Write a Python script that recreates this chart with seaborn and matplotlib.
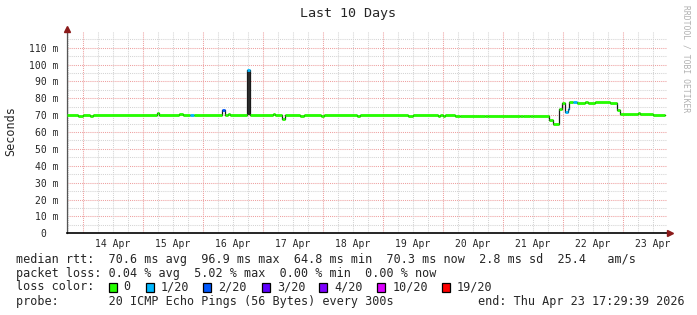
import matplotlib
matplotlib.use("Agg")
import matplotlib.pyplot as plt
import matplotlib.dates as mdates
from matplotlib.patches import Rectangle
import pandas as pd
import seaborn as sns

# ---------------- data ----------------
title = "Last 10 Days"
y_label = "Seconds"
start_time = "2026-04-13 17:29:39"
end_time = "2026-04-23 17:29:39"
line_end = "2026-04-23 17:00"

seg_start = [
    "2026-04-13 17:30", "2026-04-13 22:05", "2026-04-14 00:05", "2026-04-14 02:55",
    "2026-04-14 04:05", "2026-04-15 05:45", "2026-04-15 06:30", "2026-04-15 14:30",
    "2026-04-15 16:05", "2026-04-15 18:55", "2026-04-15 20:15", "2026-04-16 07:45",
    "2026-04-16 08:50", "2026-04-16 10:05", "2026-04-16 10:55", "2026-04-16 17:50",
    "2026-04-16 18:55", "2026-04-17 04:00", "2026-04-17 04:50", "2026-04-17 07:50",
    "2026-04-17 08:55", "2026-04-17 14:55", "2026-04-17 16:15", "2026-04-17 23:20",
    "2026-04-18 00:15", "2026-04-18 13:35", "2026-04-18 14:40", "2026-04-19 10:00",
    "2026-04-19 12:15", "2026-04-19 22:00", "2026-04-19 22:55", "2026-04-20 00:00",
    "2026-04-20 01:00", "2026-04-20 04:55", "2026-04-20 06:40", "2026-04-20 16:55",
    "2026-04-20 18:15", "2026-04-21 06:55", "2026-04-21 08:15", "2026-04-21 10:55",
    "2026-04-21 12:15", "2026-04-21 18:40", "2026-04-21 20:00", "2026-04-21 22:40",
    "2026-04-21 23:50", "2026-04-22 00:55", "2026-04-22 02:00", "2026-04-22 02:40",
    "2026-04-22 04:00", "2026-04-22 05:35", "2026-04-22 08:55", "2026-04-22 10:15",
    "2026-04-22 12:55", "2026-04-22 18:55", "2026-04-22 21:50", "2026-04-22 22:55",
    "2026-04-23 06:00", "2026-04-23 06:55", "2026-04-23 12:00",
]
# median rtt in ms
seg_value = [
    70.0, 69.4, 70.0, 69.4,
    70.0, 71.4, 70.0, 70.8,
    70.0, 70.0, 70.0, 73.2,
    70.0, 70.8, 70.0, 96.9,
    70.0, 70.8, 70.0, 67.5,
    70.0, 69.5, 70.0, 69.5,
    70.0, 69.5, 70.0, 69.4,
    70.0, 69.4, 70.0, 69.4,
    70.0, 69.4, 69.7, 69.3,
    69.7, 69.4, 69.7, 69.4,
    69.8, 67.2, 64.8, 73.4,
    77.4, 71.7, 73.5, 77.7,
    78.0, 77.1, 77.6, 77.1,
    77.6, 77.1, 73.3, 70.6,
    71.2, 70.5, 70.3,
]
# loss class index
seg_loss = [
    0, 0, 0, 0,
    0, 0, 0, 0,
    0, 1, 0, 2,
    0, 0, 0, 1,
    0, 0, 0, 0,
    0, 0, 0, 0,
    0, 0, 0, 0,
    0, 0, 0, 0,
    0, 0, 0, 0,
    0, 0, 0, 0,
    0, 0, 0, 0,
    0, 1, 1, 0,
    1, 0, 0, 0,
    0, 0, 0, 0,
    0, 0, 0,
]

smoke_start = ["2026-04-16 17:50"]
smoke_end = ["2026-04-16 18:55"]
smoke_low = [70.0]
smoke_high = [97.0]

loss_labels = ["0", "1/20", "2/20", "3/20", "4/20", "10/20", "19/20"]
loss_colors = ["#26ff00", "#00b8ff", "#0059ff", "#5e00ff", "#7e00ff", "#dd00ff", "#ff0000"]

y_ticks = [0, 10, 20, 30, 40, 50, 60, 70, 80, 90, 100, 110]
y_tick_labels = ["0  ", "10 m", "20 m", "30 m", "40 m", "50 m", "60 m", "70 m",
                 "80 m", "90 m", "100 m", "110 m"]
day_labels = ["14 Apr", "15 Apr", "16 Apr", "17 Apr", "18 Apr",
              "19 Apr", "20 Apr", "21 Apr", "22 Apr", "23 Apr"]
day_dates = ["2026-04-14", "2026-04-15", "2026-04-16", "2026-04-17", "2026-04-18",
             "2026-04-19", "2026-04-20", "2026-04-21", "2026-04-22", "2026-04-23"]

rtt_avg, rtt_max, rtt_min, rtt_now, rtt_sd, am_s = 70.6, 96.9, 64.8, 70.3, 2.8, 25.4
loss_avg, loss_max, loss_min, loss_now = 0.04, 5.02, 0.00, 0.00
probe_text = "20 ICMP Echo Pings (56 Bytes) every 300s"
end_text = "end: Thu Apr 23 17:29:39 2026"

# ---------------- figure ----------------
W, H = 697, 315
sns.set_style("white")
plt.rcParams["font.family"] = ["DejaVu Sans Mono"]

fig = plt.figure(figsize=(W / 100, H / 100), dpi=100)
fig.patch.set_facecolor("white")

x0, x1 = 66.7, 666.5
y_bot, y_top = 233.3, 30.8
ax = fig.add_axes([x0 / W, 1 - y_bot / H, (x1 - x0) / W, (y_bot - y_top) / H])
ax.set_facecolor("white")

t0 = pd.Timestamp(start_time)
t1 = pd.Timestamp(end_time)
ax.set_xlim(t0, t1)
ax.set_ylim(0, 120)

# grid
dot = (0, (1, 1))
for y in range(5, 120, 10):
    ax.axhline(y, color="#d4d4d4", lw=0.75, ls=dot, zorder=0)
for y in range(10, 120, 10):
    ax.axhline(y, color="#eea0a0", lw=0.75, ls=dot, zorder=0)
grid6 = pd.date_range("2026-04-13 18:00", end_time, freq="6h")
for g in grid6:
    if g.hour == 0:
        ax.axvline(g, color="#eea0a0", lw=0.75, ls=dot, zorder=0)
    else:
        ax.axvline(g, color="#d4d4d4", lw=0.75, ls=dot, zorder=0)

# smoke
for s, e, lo, hi in zip(smoke_start, smoke_end, smoke_low, smoke_high):
    ax.fill_between([pd.Timestamp(s), pd.Timestamp(e)], [lo, lo], [hi, hi],
                    color="#2e2e2e", lw=0, zorder=1)

# median step line (black)
df = pd.DataFrame({
    "time": pd.to_datetime(seg_start + [line_end]),
    "value": seg_value + [seg_value[-1]],
})
sns.lineplot(data=df, x="time", y="value", drawstyle="steps-post",
             color="#1a1a1a", linewidth=0.9, estimator=None, ax=ax, zorder=2)

# loss-coloured median segments
starts = pd.to_datetime(seg_start)
ends = pd.to_datetime(seg_start[1:] + [line_end])
ax.hlines(seg_value, mdates.date2num(starts), mdates.date2num(ends),
          colors=[loss_colors[i] for i in seg_loss], linewidth=2.0, zorder=3,
          capstyle="butt")

# axes styling
for sp in ["top", "right"]:
    ax.spines[sp].set_visible(False)
ax.spines["left"].set_color("#555555")
ax.spines["left"].set_linewidth(0.9)
ax.spines["bottom"].set_color("#000000")
ax.spines["bottom"].set_linewidth(1.2)
ax.set_xlabel("")
ax.set_ylabel("")

ax.set_yticks(y_ticks)
ax.set_yticklabels(y_tick_labels, fontsize=7)
ax.tick_params(axis="y", length=3, width=0.8, color="#555555", pad=3, direction="out")

noons = [pd.Timestamp(d) + pd.Timedelta(hours=12) for d in day_dates]
ax.set_xticks(noons)
ax.set_xticklabels(day_labels, fontsize=7)
ax.tick_params(axis="x", length=0, pad=4)
ax.grid(False)

# arrows
ax.plot([0], [1.01], marker="^", color="#8b1a1a", markersize=4.5,
        transform=ax.transAxes, clip_on=False, zorder=5)
ax.plot([1.006], [0], marker=">", color="#8b1a1a", markersize=4.5,
        transform=ax.transAxes, clip_on=False, zorder=5)


def fx(px):
    return px / W


def fy(py):
    return 1 - py / H


fig.text(fx(348), fy(14), title, ha="center", va="center", fontsize=9.6)
fig.text(fx(11), fy(131), y_label, ha="center", va="center", rotation=90, fontsize=8.5)
fig.text(fx(686), fy(59), "RRDTOOL / TOBI OETIKER", ha="center", va="center",
         rotation=270, fontsize=5.8, color="#b0b0b0")

fs = 8.5
line1 = (f"median rtt:  {rtt_avg:.1f} ms avg  {rtt_max:.1f} ms max  {rtt_min:.1f} ms min  "
         f"{rtt_now:.1f} ms now  {rtt_sd:.1f} ms sd  {am_s:.1f}   am/s")
line2 = (f"packet loss: {loss_avg:.2f} % avg  {loss_max:.2f} % max  "
         f"{loss_min:.2f} % min  {loss_now:.2f} % now")
fig.text(fx(16), fy(259.3), line1, ha="left", va="center", fontsize=fs)
fig.text(fx(16), fy(273.3), line2, ha="left", va="center", fontsize=fs)
fig.text(fx(16), fy(287), "loss color:", ha="left", va="center", fontsize=fs)
fig.text(fx(16), fy(301.3), "probe:       " + probe_text, ha="left", va="center", fontsize=fs)
fig.text(fx(478), fy(301.3), end_text, ha="left", va="center", fontsize=fs)

box_x = [108.7, 145.7, 203.3, 261.7, 319.3, 377.3, 442.3]
lab_x = [123.3, 160.7, 218.3, 276.7, 334.0, 392.3, 456.7]
for bx, lx, col, lab in zip(box_x, lab_x, loss_colors, loss_labels):
    fig.patches.append(Rectangle((fx(bx), fy(291.5)), 8 / W, 9 / H,
                                 transform=fig.transFigure, facecolor=col,
                                 edgecolor="black", linewidth=0.9))
    fig.text(fx(lx), fy(287), lab, ha="left", va="center", fontsize=fs)

fig.savefig("out.png", dpi=100, facecolor="white")
